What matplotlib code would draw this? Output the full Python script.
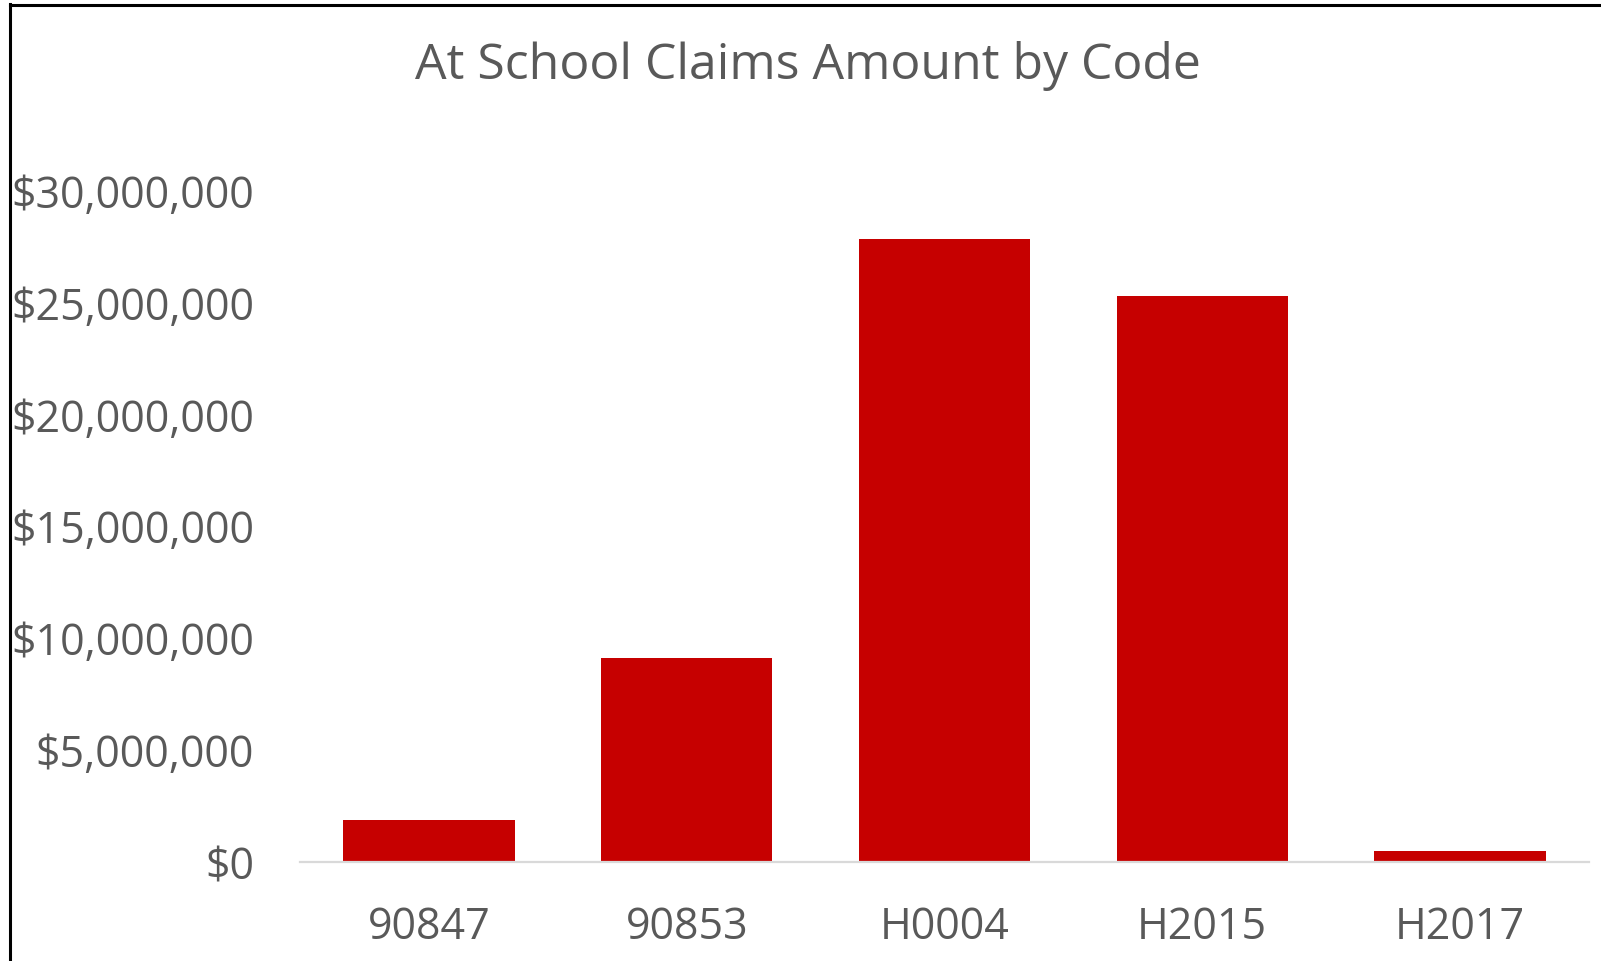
import matplotlib
matplotlib.use("Agg")
import matplotlib.pyplot as plt
from matplotlib.ticker import FuncFormatter
from matplotlib.lines import Line2D

codes = ["90847", "90853", "H0004", "H2015", "H2017"]
amounts = [1_860_000, 9_100_000, 27_790_000, 25_280_000, 490_000]
yticks = [0, 5_000_000, 10_000_000, 15_000_000, 20_000_000, 25_000_000, 30_000_000]

FONT = ["Open Sans", "DejaVu Sans"]
GREY = "#595959"

fig = plt.figure(figsize=(16.01, 9.62), dpi=100)
ax = fig.add_axes([300 / 1601, 1 - 862.5 / 962, (1589 - 300) / 1601, (862.5 - 191) / 962])

x = range(len(codes))
ax.bar(x, amounts, width=0.665, color="#C60000", zorder=2)
ax.set_xlim(-0.5, len(codes) - 0.5)
ax.set_ylim(0, 30_000_000)
ax.set_yticks(yticks)
ax.yaxis.set_major_formatter(FuncFormatter(lambda v, p: "${:,.0f}".format(v)))
ax.set_xticks(list(x))
ax.set_xticklabels(codes)

for s in ["top", "right", "left"]:
    ax.spines[s].set_visible(False)
ax.spines["bottom"].set_color("#D9D9D9")
ax.spines["bottom"].set_linewidth(1.6)
ax.tick_params(axis="both", length=0, colors=GREY, labelsize=31)
ax.tick_params(axis="y", pad=33)
ax.tick_params(axis="x", pad=31)
for lab in ax.get_xticklabels() + ax.get_yticklabels():
    lab.set_family(FONT)
    lab.set_color(GREY)

fig.text(808 / 1601, 1 - 66 / 962, "At School Claims Amount by Code", ha="center", va="center",
         fontsize=36, color=GREY, family=FONT)

# frame lines (left and top)
fig.add_artist(Line2D([9.5 / 1601, 9.5 / 1601], [0, 1 - 5 / 962], transform=fig.transFigure,
                      color="black", linewidth=2.2))
fig.add_artist(Line2D([9.5 / 1601, 1], [1 - 6 / 962, 1 - 6 / 962], transform=fig.transFigure,
                      color="black", linewidth=2.2))

fig.savefig("out.png", dpi=100)
